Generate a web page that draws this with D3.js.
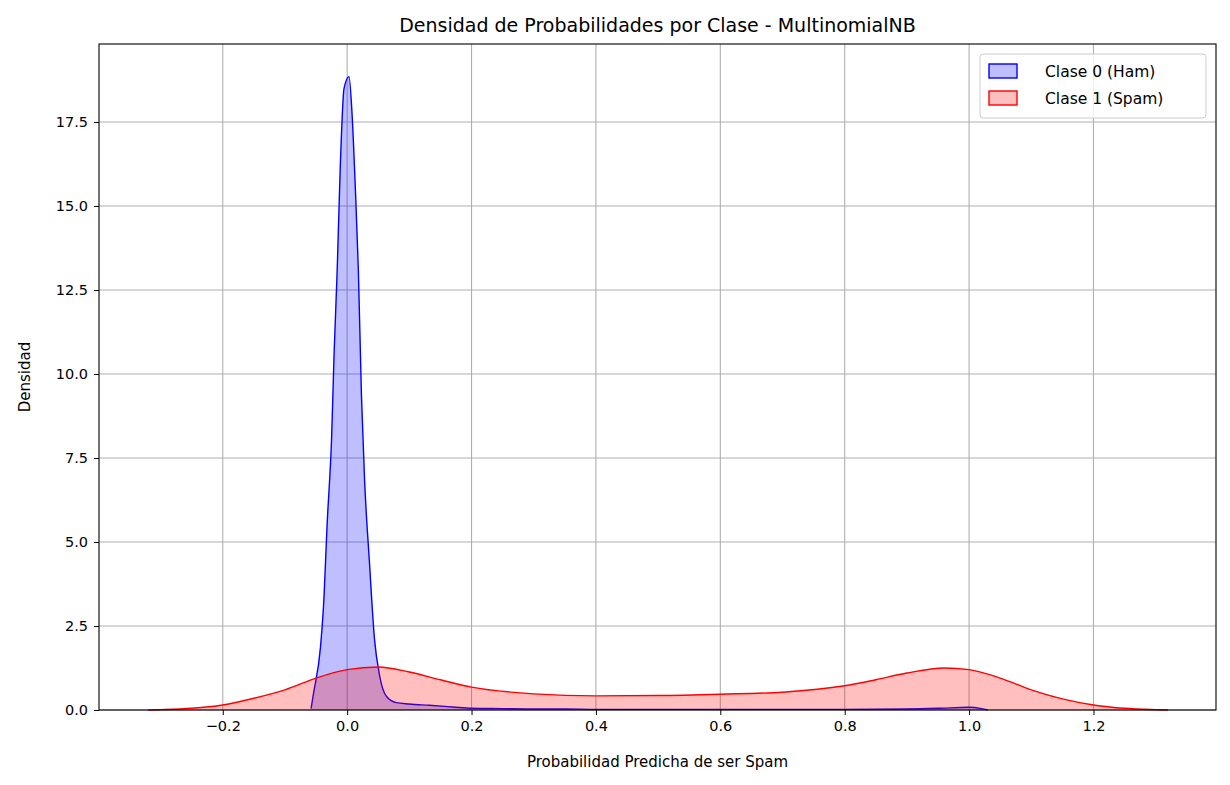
<!DOCTYPE html>
<html><head><meta charset="utf-8">
<script src="https://d3js.org/d3.v7.min.js"></script>
<style>body{margin:0;background:#fff;font-family:"DejaVu Sans",sans-serif}</style>
</head><body><svg id="c" width="1230" height="785"></svg>
<script>
// densidad clase 0 (ham)
const hamX = [-0.058,-0.054,-0.043,-0.038,-0.032,-0.025,-0.021,-0.016,-0.011,-0.005,0.003,0.008,0.013,0.018,0.023,0.028,0.036,0.044,0.052,0.063,0.079,0.10,0.132,0.17,0.2,0.25,0.3,0.35,0.4,0.5,0.6,0.7,0.8,0.9,0.95,1.0,1.02,1.03]
const hamY = [0.04,0.5,1.85,3.1,5.6,8.1,10.6,13.1,16.2,18.5,18.85,17.7,15.6,13.1,9.35,6.85,4.35,2.1,1.04,0.41,0.22,0.18,0.14,0.09,0.05,0.04,0.03,0.03,0.02,0.02,0.02,0.02,0.02,0.03,0.05,0.08,0.04,0]
// densidad clase 1 (spam)
const spamX = [-0.32,-0.3,-0.25,-0.2,-0.15,-0.1,-0.05,0,0.05,0.1,0.15,0.2,0.3,0.4,0.5,0.6,0.7,0.8,0.85,0.9,0.96,1.0,1.05,1.1,1.15,1.2,1.25,1.3,1.32]
const spamY = [0,0.01,0.05,0.15,0.35,0.6,0.95,1.2,1.28,1.13,0.9,0.68,0.48,0.42,0.43,0.47,0.53,0.72,0.9,1.1,1.25,1.2,0.95,0.6,0.33,0.15,0.05,0.01,0]
const xTicks = [-0.2,0,0.2,0.4,0.6,0.8,1.0,1.2]
const yTicks = [0,2.5,5,7.5,10,12.5,15,17.5]

const svg = d3.select('#c')
const m = {l:99, r:1216, t:44, b:710}
const x = d3.scaleLinear().domain([-0.399,1.397]).range([m.l,m.r])
const y = d3.scaleLinear().domain([0,19.82]).range([m.b,m.t])

// grid
svg.append('g').selectAll('line').data(xTicks).join('line')
  .attr('x1',d=>x(d)).attr('x2',d=>x(d)).attr('y1',m.t).attr('y2',m.b)
  .attr('stroke','#b0b0b0').attr('stroke-width',1.1)
svg.append('g').selectAll('line').data(yTicks).join('line')
  .attr('x1',m.l).attr('x2',m.r).attr('y1',d=>y(d)).attr('y2',d=>y(d))
  .attr('stroke','#b0b0b0').attr('stroke-width',1.1)

const area = d3.area().x(d=>x(d[0])).y0(y(0)).y1(d=>y(d[1])).curve(d3.curveMonotoneX)
const line = d3.line().x(d=>x(d[0])).y(d=>y(d[1])).curve(d3.curveMonotoneX)
const series = [
  {name:'Clase 0 (Ham)', c:'blue', pts:hamX.map((v,i)=>[v,hamY[i]])},
  {name:'Clase 1 (Spam)', c:'red', pts:spamX.map((v,i)=>[v,spamY[i]])}
]
series.forEach(s => {
  svg.append('path').attr('d',area(s.pts)).attr('fill',s.c).attr('fill-opacity',0.25)
  svg.append('path').attr('d',line(s.pts)).attr('fill','none').attr('stroke',s.c).attr('stroke-width',1.4)
})

svg.append('rect').attr('x',m.l).attr('y',m.t).attr('width',m.r-m.l).attr('height',m.b-m.t)
  .attr('fill','none').attr('stroke','#000').attr('stroke-width',1.1)

const xa = svg.append('g').attr('transform',`translate(0,${m.b})`)
  .call(d3.axisBottom(x).tickValues(xTicks).tickSize(5).tickPadding(6).tickFormat(d=>d3.format('.1f')(d).replace('-','\u2212')))
const ya = svg.append('g').attr('transform',`translate(${m.l},0)`)
  .call(d3.axisLeft(y).tickValues(yTicks).tickSize(5).tickPadding(6).tickFormat(d3.format('.1f')))
;[xa,ya].forEach(a=>{a.select('.domain').remove();a.attr('font-size',14.5).attr('font-family','DejaVu Sans');a.selectAll('text').attr('fill','#000');a.selectAll('line').attr('stroke','#000')})

svg.append('text').attr('x',(m.l+m.r)/2).attr('y',32).attr('text-anchor','middle').attr('font-size',19).text('Densidad de Probabilidades por Clase - MultinomialNB')
svg.append('text').attr('x',(m.l+m.r)/2).attr('y',767).attr('text-anchor','middle').attr('font-size',15).text('Probabilidad Predicha de ser Spam')
svg.append('text').attr('transform','translate(30,377) rotate(-90)').attr('text-anchor','middle').attr('font-size',15).text('Densidad')

// legend
const lg = svg.append('g').attr('transform','translate(980,54)')
lg.append('rect').attr('width',226).attr('height',64).attr('rx',3).attr('fill','#fff').attr('fill-opacity',0.8).attr('stroke','#ccc')
series.forEach((s,i)=>{
  lg.append('rect').attr('x',9).attr('y',10+i*27).attr('width',28).attr('height',14)
    .attr('fill',s.c).attr('fill-opacity',0.25).attr('stroke',s.c).attr('stroke-width',1.4)
  lg.append('text').attr('x',65).attr('y',23+i*27).attr('font-size',15.5).text(s.name)
})
</script></body></html>
